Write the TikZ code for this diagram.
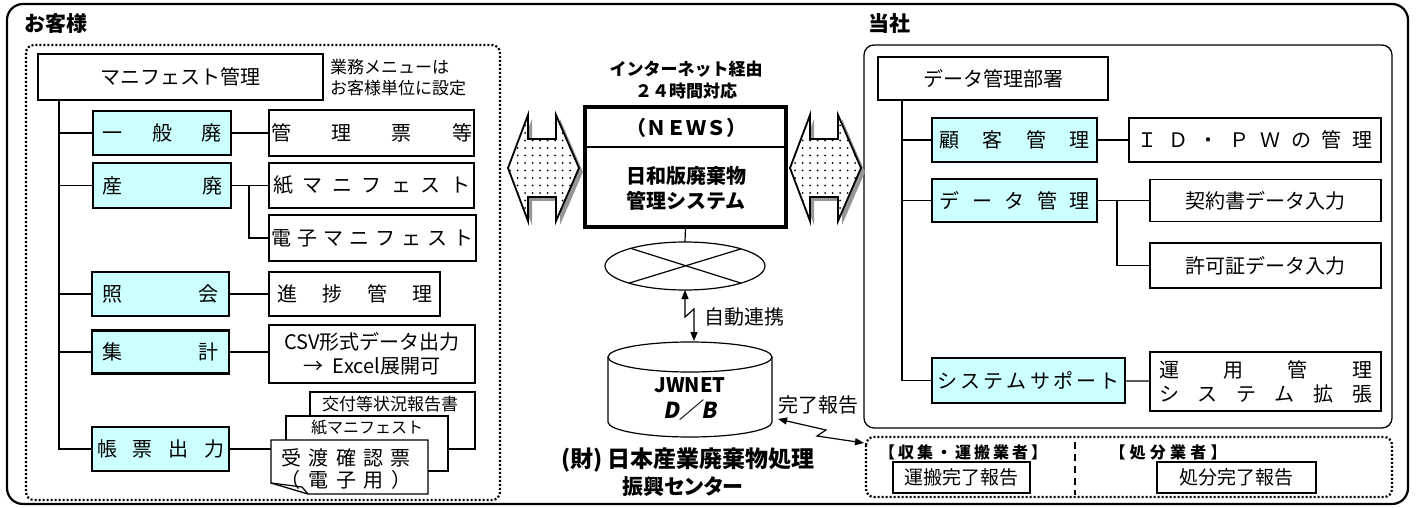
\documentclass[tikz,border=0pt]{standalone}
\usepackage{fontspec}
\setmainfont{Noto Sans CJK JP}
\newfontfamily\slfont{Noto Sans CJK JP}[FakeSlant=0.18]
\usetikzlibrary{arrows.meta,shapes.geometric,patterns.meta}
\definecolor{lcyan}{HTML}{CCFFFF}
\definecolor{shad}{HTML}{969696}
\newcommand\spr[2]{\hbox to #1bp{#2}}
\newcommand\barrow[1]{(#1+20,115) -- (#1+20,139) -- (#1+48,139) -- (#1+48,115) -- (#1+71,168) -- (#1+48,221) -- (#1+48,197) -- (#1+20,197) -- (#1+20,221) -- (#1,168) -- cycle}
\begin{document}
\begin{tikzpicture}[x=1bp,y=-1bp,
 every node/.style={inner sep=0pt,outer sep=0pt},
 f20/.style={font=\fontsize{20bp}{24bp}\selectfont},
 f19/.style={font=\fontsize{19bp}{23bp}\selectfont},
 f17/.style={font=\fontsize{17bp}{21bp}\selectfont},
 f16/.style={font=\fontsize{16bp}{20bp}\selectfont},
 thinbox/.style={draw,fill=white,line width=1.3bp,f20},
 thickbox/.style={draw,fill=white,line width=2.6bp,f20},
 cyanbox/.style={draw,fill=lcyan,line width=2.6bp,f20},
 conn/.style={line width=1.2bp},
 docl/.style={draw,fill=white,line width=1.3bp},
 dotbox/.style={line width=2.2bp,dash pattern=on 2bp off 2bp,rounded corners=8bp},
 ltip/.style={conn,{Triangle[length=9bp,width=7bp]}-{Triangle[length=9bp,width=7bp]}},
 title/.style={font=\fontsize{21bp}{25bp}\selectfont\bfseries},
 btext/.style={font=\fontsize{20bp}{25bp}\selectfont\bfseries,align=center},
 vtext/.style={font=\fontsize{16bp}{20bp}\selectfont\bfseries},
]
\useasboundingbox (0,0) rectangle (1416,508);
% frames
\draw[line width=2.2bp,rounded corners=16bp] (7,4) rectangle (1408,504);
\draw[dotbox] (26,45) rectangle (500,500);
\draw[line width=1.3bp,rounded corners=10bp] (864,45) rectangle (1392,428);
\draw[dotbox] (866,437) rectangle (1392,497);
\node[title] (okyaku) at (56,24) {お客様};
\node[title] (tosha) at (889,24) {当社};

% ---- left: customer
\node[thickbox,minimum width=285bp,minimum height=46bp] (manif) at (180.5,77) {マニフェスト管理};
\node[f17,align=left,anchor=west] (memo) at (330,77.5) {業務メニューは\\お客様単位に設定};
\coordinate (ltrunk) at (59,100);
\node[cyanbox,minimum width=138bp,minimum height=44bp] (ippan) at (162,133) {\spr{119}{一\hfill 般\hfill 廃}};
\node[thinbox,minimum width=205bp,minimum height=46bp] (kanri) at (371.5,133) {\spr{201}{管\hfill 理\hfill 票\hfill 等}};
\node[cyanbox,minimum width=138bp,minimum height=45bp] (sanpai) at (162,185.5) {\spr{120}{産\hfill 廃}};
\node[thinbox,minimum width=205bp,minimum height=45bp] (kami) at (371.5,185.5) {\spr{197}{紙\hfill マ\hfill ニ\hfill フ\hfill ェ\hfill ス\hfill ト}};
\node[thinbox,minimum width=207bp,minimum height=46bp] (denshi) at (372.5,238) {\spr{202}{電\hfill 子\hfill マ\hfill ニ\hfill フ\hfill ェ\hfill ス\hfill ト}};
\node[cyanbox,minimum width=137bp,minimum height=44bp] (shokai) at (160.5,294) {\spr{116}{照\hfill 会}};
\node[thinbox,minimum width=171bp,minimum height=44bp] (shinchoku) at (354.5,294) {\spr{155}{進\hfill 捗\hfill 管\hfill 理}};
\node[cyanbox,minimum width=137bp,minimum height=43bp] (shukei) at (160.5,352) {\spr{116}{集\hfill 計}};
\node[thinbox,minimum width=206bp,minimum height=58bp,align=center] (csv) at (372,354) {CSV形式データ出力\\→\ \ Excel展開可};
\node[cyanbox,minimum width=137bp,minimum height=44bp] (chohyo) at (160.5,449) {\spr{127}{帳\hfill 票\hfill 出\hfill 力}};
% documents
\draw[docl] (310,392) rectangle (475,449);
\node[f17] (doc1) at (390,404) {交付等状況報告書};
\draw[docl] (286,416) rectangle (448,471);
\node[f16] (doc2) at (367,428) {紙マニフェスト};
\draw[docl] (271,440) -- (428,440) -- (428,494) -- (308,494) -- (271,483) -- cycle;
\draw[conn] (271,483) -- (302,487) -- (308,494);
\node[f20] (doc3a) at (346,458) {\spr{129}{受\hfill 渡\hfill 確\hfill 認\hfill 票}};
\node[f20] (doc3b) at (346,480) {\spr{131}{（\hfill 電\hfill 子\hfill 用\hfill ）}};
\coordinate (docin) at (271,449);
% connectors left
\draw[conn] (manif.south -| ltrunk) |- (chohyo.west);
\foreach \b in {ippan,sanpai,shokai,shukei} \draw[conn] (ltrunk |- \b.west) -- (\b.west);
\draw[conn] (ippan) -- (kanri);
\draw[conn] (sanpai) -- (kami);
\draw[conn] ([xshift=18bp]sanpai.east) |- (denshi.west);
\draw[conn] (shokai) -- (shinchoku);
\draw[conn] (shukei.east) -- (shukei.east -| csv.west);
\draw[conn] (chohyo.east) -- (docin);

% ---- centre
\foreach \x in {508,790} {
  \fill[shad,shift={(4,4)}] \barrow{\x};
  \fill[white] \barrow{\x};
  \fill[pattern={Dots[distance=7.5bp,radius=1bp]},pattern color=black] \barrow{\x};
  \draw[line width=1.8bp,line join=miter] \barrow{\x};
}
\node[font=\fontsize{17bp}{22bp}\selectfont\bfseries,align=center] (inet) at (686,80) {インターネット経由\\２４時間対応};
\node[draw,line width=3.2bp,minimum width=201bp,minimum height=120bp] (news) at (685.5,167) {};
\draw[line width=2.6bp] (585,147) -- (786,147);
\node[btext] (newst) at (686,128) {（ＮＥＷＳ）};
\node[btext] (hiwa) at (686,188) {日和版廃棄物\\管理システム};
\node[ellipse,draw,line width=1.2bp,minimum width=160bp,minimum height=48bp] (hub) at (685,266) {};
\draw[conn] (news.south) -- (hub.north);
\draw[conn] (hub.162.4) -- (hub.-17.6);
\draw[conn] (hub.17.6) -- (hub.197.6);
\coordinate (dbtop) at (694,341);
\draw[ltip] (hub.south) -- (685,317) -- (694,309) -- (dbtop);
\node[f20] (jido) at (744,317) {自動連携};
% cylinder
\draw[line width=1.2bp,fill=white] (608,357) -- (608,422) arc[start angle=180,end angle=360,x radius=82bp,y radius=15bp] -- (772,357);
\draw[line width=1.2bp] (690,357) ellipse [x radius=82bp,y radius=15bp];
\node[font=\fontsize{20bp}{24bp}\selectfont\bfseries] (jwnet) at (690,385) {JWNET};
\node[font=\fontsize{22bp}{26bp}\slfont\bfseries] (dbl) at (690,410) {D／B};
\node[font=\fontsize{23bp}{27bp}\selectfont\bfseries] (zai) at (688,460) {(財) 日本産業廃棄物処理};
\node[font=\fontsize{21bp}{25bp}\selectfont\bfseries\addfontfeature{RawFeature=+palt}] (shinko) at (683,487) {振興センター};
\node[f20] (kanryo) at (818,405) {完了報告};
\coordinate (dbr) at (778,419);
\coordinate (vendin) at (864,443);
\draw[ltip] (dbr) -- (826,430) -- (817,436) -- (vendin);

% ---- right: company
\node[thickbox,minimum width=230bp,minimum height=43bp] (dmb) at (993,78.5) {データ管理部署};
\coordinate (rtrunk) at (902,100);
\node[cyanbox,minimum width=165bp,minimum height=44bp] (koky) at (1014.5,140) {\spr{150}{顧\hfill 客\hfill 管\hfill 理}};
\node[thinbox,minimum width=252bp,minimum height=44bp] (idpw) at (1255,140) {\spr{235}{Ｉ\hfill Ｄ\hfill ・\hfill Ｐ\hfill Ｗ\hfill の\hfill 管\hfill 理}};
\node[cyanbox,minimum width=165bp,minimum height=43bp] (dkan) at (1014.5,200.5) {\spr{150}{デ\hfill ー\hfill タ\hfill 管\hfill 理}};
\node[thinbox,minimum width=231bp,minimum height=42bp] (keiy) at (1265.5,200.5) {契約書データ入力};
\node[thinbox,minimum width=231bp,minimum height=45bp] (kyoka) at (1265.5,265.5) {許可証データ入力};
\node[cyanbox,minimum width=193bp,minimum height=45bp] (sys) at (1028.5,380.5) {\spr{182}{シ\hfill ス\hfill テ\hfill ム\hfill サ\hfill ポ\hfill ー\hfill ト}};
\node[thinbox,minimum width=231bp,minimum height=59bp,align=center,font=\fontsize{20bp}{24bp}\selectfont] (unyo) at (1265.5,381.5) {\spr{213}{運\hfill 用\hfill 管\hfill 理}\\\spr{213}{シ\hfill ス\hfill テ\hfill ム\hfill 拡\hfill 張}};
\draw[conn] (dmb.south -| rtrunk) |- (sys.west);
\foreach \b in {koky,dkan} \draw[conn] (rtrunk |- \b.west) -- (\b.west);
\draw[conn] (koky) -- (idpw);
\draw[conn] (dkan) -- (keiy);
\draw[conn] ([xshift=20bp]dkan.east) |- (kyoka.west);
\draw[conn] (sys) -- (unyo);
% vendors
\node[vtext] (shushu) at (963,452) {\spr{168}{【\hfill 収\hfill 集\hfill ・\hfill 運\hfill 搬\hfill 業\hfill 者\hfill 】}};
\node[vtext] (shobun) at (1168,452) {\spr{117}{【\hfill 処\hfill 分\hfill 業\hfill 者\hfill 】}};
\draw[line width=1.3bp,dash pattern=on 7bp off 5bp] (1075,442) -- (1075,495);
\node[thinbox,f19,minimum width=137bp,minimum height=31bp] (unpan) at (961.5,477.5) {運搬完了報告};
\node[thinbox,f19,minimum width=159bp,minimum height=31bp] (shobunk) at (1236.5,477.5) {処分完了報告};
\end{tikzpicture}
\end{document}
